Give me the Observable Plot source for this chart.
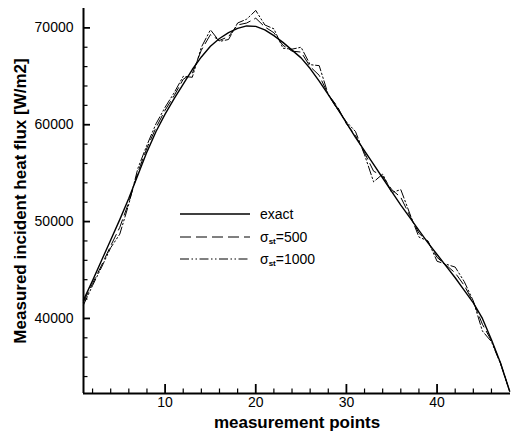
<!DOCTYPE html>
<html>
<head>
<meta charset="utf-8">
<script src="https://cdn.jsdelivr.net/npm/d3@7"></script>
<script src="https://cdn.jsdelivr.net/npm/@observablehq/plot@0.6"></script>
<style>
  html, body { margin: 0; padding: 0; background: #fff; }
  #wrap { position: relative; width: 511px; height: 438px; font-family: "Liberation Sans", Arial, Helvetica, sans-serif; }
  .lg { position: absolute; left: 180px; height: 22px; display: flex; align-items: center; font-size: 14px; color: #000; white-space: nowrap; }
  .lg svg { display: block; margin-right: 10px; }
  .lg sub { font-size: 8px; font-weight: bold; vertical-align: -2px; }
</style>
</head>
<body>
<div id="wrap"></div>
<script>
// measurement points
const points = [1,2,3,4,5,6,7,8,9,10,11,12,13,14,15,16,17,18,19,20,21,22,23,24,25,26,27,28,29,30,31,32,33,34,35,36,37,38,39,40,41,42,43,44,45,46,47,48];
// exact incident heat flux [W/m2]
const exact = [41900,43900,46000,48100,50200,52400,54800,57200,59300,61100,62700,64200,65700,67000,68100,68900,69500,69950,70200,70150,69800,69200,68500,67700,66900,65800,64500,63100,61700,60200,58700,57300,55900,54500,53100,51700,50400,49100,47800,46600,45400,44200,42900,41600,40000,37800,35400,32500];
// measured with sigma_st = 500
const sigma500 = [41700,43600,45500,47500,49400,52000,55100,57600,59700,61500,63000,64700,65300,67700,69300,68700,69100,70300,70500,71000,70100,69500,68200,67600,67500,66000,65100,63100,61900,60100,58900,57100,55200,54700,53300,52500,50600,48800,47900,46300,45500,44700,43400,41700,39400,37700,35400,32500];
// measured with sigma_st = 1000
const sigma1000 = [41400,43400,45300,47300,48700,51800,55500,57900,60100,61800,63300,65000,64900,68000,69800,68600,68800,70500,70900,71800,70300,69900,67900,67800,68000,66200,66100,63100,61600,60300,59300,56900,54100,54900,53000,53300,50800,48400,48000,45900,45600,45300,43800,41800,38700,37600,35300,32500];

const xMajor = [10,20,30,40];
const xMinor = [2,4,6,8,12,14,16,18,22,24,26,28,32,34,36,38,42,44,46];
const yMajor = [40000,50000,60000,70000];
const yMinor = [34000,36000,38000,42000,44000,46000,48000,52000,54000,56000,58000,62000,64000,66000,68000];

const xTitle = "measurement points";
const yTitle = "Measured incident heat flux [W/m2]";
const xDomain = [1, 48.1];
const yDomain = [32250, 72000];

const rows = points.map((p, i) => ({x: p, exact: exact[i], s500: sigma500[i], s1000: sigma1000[i]}));

const dash500 = "11,5";
const dash1000 = "9,2.5,1.5,2.5,1.5,2.5";

const chart = Plot.plot({
  width: 511,
  height: 438,
  marginLeft: 83,
  marginRight: 1,
  marginTop: 8,
  marginBottom: 45,
  style: {fontFamily: "'Liberation Sans', Arial, Helvetica, sans-serif", fontSize: "14px", color: "#000", background: "#fff", overflow: "visible"},
  x: {domain: xDomain},
  y: {domain: yDomain},
  marks: [
    Plot.line(rows, {x: "x", y: "s1000", stroke: "#000", strokeWidth: 1, strokeDasharray: dash1000}),
    Plot.line(rows, {x: "x", y: "s500", stroke: "#000", strokeWidth: 1, strokeDasharray: dash500}),
    Plot.line(rows, {x: "x", y: "exact", stroke: "#000", strokeWidth: 1.4}),
    Plot.axisX({ticks: xMinor, tickSize: -4.5, tickFormat: () => "", label: null, strokeWidth: 1.2}),
    Plot.axisX({ticks: xMajor, tickSize: -9, tickFormat: () => "", label: null, strokeWidth: 1.8}),
    Plot.axisX({ticks: xMajor, tickSize: 0, tickPadding: 4, label: null, fontSize: 14}),
    Plot.axisY({ticks: yMinor, tickSize: -4.5, tickFormat: () => "", label: null, strokeWidth: 1.2}),
    Plot.axisY({ticks: yMajor, tickSize: -7, tickFormat: () => "", label: null, strokeWidth: 1.8}),
    Plot.axisY({ticks: yMajor, tickSize: 0, tickPadding: 10, label: null, fontSize: 14, tickFormat: d => String(d)}),
    Plot.ruleX([xDomain[0]], {stroke: "#000", strokeWidth: 2}),
    Plot.ruleY([yDomain[0]], {stroke: "#000", strokeWidth: 2}),
    Plot.text([xTitle], {frameAnchor: "bottom", dy: 29, text: d => d, fontWeight: "bold", fontSize: 17, lineAnchor: "middle", textAnchor: "middle"}),
    Plot.text([yTitle], {frameAnchor: "left", dx: -63, rotate: -90, text: d => d, fontWeight: "bold", fontSize: 17, lineAnchor: "middle", textAnchor: "middle"})
  ]
});

const wrap = document.getElementById("wrap");
wrap.appendChild(chart);

const legendItems = [
  {label: "exact", dash: null, width: 1.4, top: 203},
  {label: "σ<sub>st</sub>=500", dash: dash500, width: 1, top: 226},
  {label: "σ<sub>st</sub>=1000", dash: dash1000, width: 1, top: 248}
];
for (const it of legendItems) {
  const div = document.createElement("div");
  div.className = "lg";
  div.style.top = it.top + "px";
  div.innerHTML = `<svg width="70" height="6"><line x1="0" y1="3" x2="70" y2="3" stroke="#000" stroke-width="${it.width}" ${it.dash ? `stroke-dasharray="${it.dash}"` : ""}/></svg><span>${it.label}</span>`;
  wrap.appendChild(div);
}
</script>
</body>
</html>
